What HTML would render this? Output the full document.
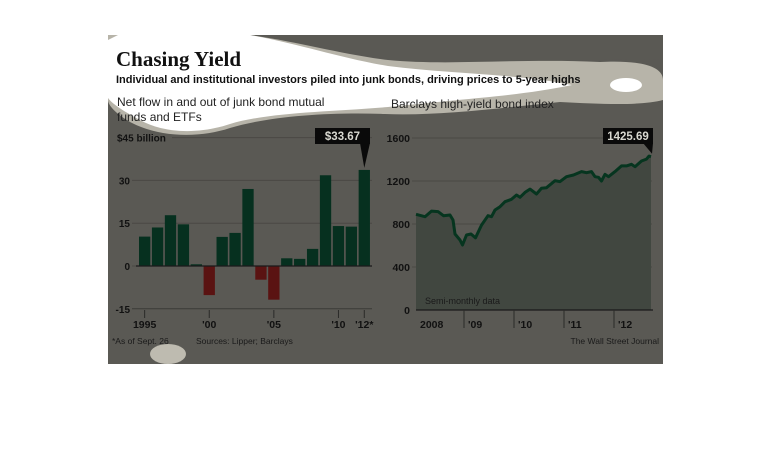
<!DOCTYPE html>
<html><head><meta charset="utf-8">
<style>
html,body{margin:0;padding:0;background:#fff;}
body{width:770px;height:458px;position:relative;overflow:hidden;font-family:"Liberation Sans",sans-serif;}
svg{position:absolute;left:0;top:0;}
</style></head>
<body>
<svg id="chart" width="770" height="458" viewBox="0 0 770 458">
  <rect x="108" y="35" width="555" height="329" fill="#5a5954"/>
  <g>
    <path d="M108,35 L663,35 L663,60 C620,58 560,62 480,62 C420,62 400,64 385,58 C330,52 290,42 250,35 Z" fill="#5a5954"/>
    <path d="M108,35 L250,35 C300,42 340,54 388,60 C450,66 520,58 600,62 C640,60 663,66 663,80 L663,100 C640,106 600,104 560,102 C500,108 440,116 385,114 C330,112 270,116 230,128 C200,138 160,138 130,122 C118,115 108,106 108,100 Z" fill="#b7b4a9"/>
    <path d="M118,35 L250,35 C300,44 340,58 388,66 C450,74 520,74 572,85 C520,96 470,98 388,107 C330,112 270,112 230,124 C200,134 165,134 140,120 C125,112 112,104 108,98 L108,40 Z" fill="#ffffff"/>
    <ellipse cx="626" cy="85" rx="16" ry="7" fill="#ffffff"/>
    <ellipse cx="168" cy="354" rx="18" ry="10" fill="#bebbb0"/>
  </g>
  <text x="116" y="66" font-family="Liberation Serif,serif" font-weight="bold" font-size="21" fill="#111">Chasing Yield</text>
  <text x="116" y="83" font-size="11" font-weight="bold" fill="#111">Individual and institutional investors piled into junk bonds, driving prices to 5-year highs</text>
  <text x="117" y="106" font-size="12" fill="#222">Net flow in and out of junk bond mutual</text>
  <text x="117" y="121" font-size="12" fill="#222">funds and ETFs</text>
  <text x="391" y="108" font-size="12" fill="#222">Barclays high-yield bond index</text>
  <g id="left"></g>
  <g id="right"></g>
  <text x="112" y="344" font-size="8.5" fill="#1a1a1a">*As of Sept. 26</text>
  <text x="196" y="344" font-size="8.5" fill="#1a1a1a">Sources: Lipper; Barclays</text>
  <text x="659" y="344" font-size="8.5" text-anchor="end" fill="#1a1a1a">The Wall Street Journal</text>
</svg>
<script>
const NS="http://www.w3.org/2000/svg";
function mk(parent,tag,attrs,text){const e=document.createElementNS(NS,tag);for(const k in attrs)e.setAttribute(k,attrs[k]);if(text!==undefined)e.textContent=text;parent.appendChild(e);return e;}

// ---- Left chart data ----
const flowYears=[1995,1996,1997,1998,1999,2000,2001,2002,2003,2004,2005,2006,2007,2008,2009,2010,2011,2012];
const flowValues=[10.3,13.5,17.8,14.6,0.6,-10.2,10.2,11.6,27,-4.8,-11.8,2.7,2.5,6,31.8,14,13.8,33.67];
const flowTicks=[-15,0,15,30,45];
const flowTickLabels=["-15","0","15","30","$45 billion"];
const flowXTicks=[1995,2000,2005,2010,2012];
const flowXLabels=["1995","'00","'05","'10","'12*"];

// ---- Right chart data ----
const idxDates=[2008.04,2008.22,2008.35,2008.48,2008.59,2008.72,2008.78,2008.82,2008.92,2008.97,2009.05,2009.14,2009.23,2009.35,2009.48,2009.55,2009.62,2009.72,2009.82,2009.95,2010.05,2010.12,2010.22,2010.32,2010.45,2010.55,2010.65,2010.82,2010.92,2011.05,2011.19,2011.35,2011.45,2011.55,2011.62,2011.69,2011.75,2011.82,2011.89,2012.02,2012.15,2012.25,2012.35,2012.42,2012.55,2012.65,2012.70,2012.74];
const idxValues=[890,868,920,915,877,884,837,707,651,605,698,707,672,790,877,868,930,961,1007,1030,1070,1048,1094,1125,1079,1132,1138,1203,1194,1240,1256,1287,1277,1287,1240,1234,1200,1262,1240,1287,1340,1340,1355,1333,1386,1404,1432,1425.69];
const idxTicks=[0,400,800,1200,1600];
const idxYearLabels=["2008","'09","'10","'11","'12"];
const idxYears=[2008,2009,2010,2011,2012];

// Left axes
const L={x0:132,x1:372,y:v=>266-(v*42.8/15),bx:i=>139+i*12.92,bw:11.3};
const lg=document.getElementById('left');
flowTicks.forEach((t,i)=>{
  const y=L.y(t);
  const g=mk(lg,'line',{x1:t===45?172:132,x2:372,y1:y,y2:y,stroke:t===-15?'#3a3a36':'#4a4945','stroke-width':1});
  
  
  const tx=mk(lg,'text',{x:t===45?117:130,y:y+4,'font-size':10,'font-weight':'bold','text-anchor':t===45?'start':'end',fill:'#111'},flowTickLabels[i]);
  
  
});
flowValues.forEach((v,i)=>{
  const y0=L.y(0),y1=L.y(v);
  const r=mk(lg,'rect',{x:L.bx(i),y:Math.min(y0,y1),width:L.bw,height:Math.abs(y1-y0),fill:v>=0?'#06301f':'#5a1312'});
  
  
});
const zl=mk(lg,'line',{x1:136,x2:372,y1:L.y(0),y2:L.y(0),stroke:'#1a1a1a','stroke-width':1.2});


flowXTicks.forEach((yr,i)=>{
  const x=L.bx(flowYears.indexOf(yr))+L.bw/2;
  const t=mk(lg,'line',{x1:x,x2:x,y1:310,y2:318,stroke:'#2a2a28','stroke-width':1});
  
  
  const lb=mk(lg,'text',{x:x,y:328,'font-size':10.5,'font-weight':'bold','text-anchor':'middle',fill:'#111'},flowXLabels[i]);
  
  
});
// callout last bar
(function(){
  const i=flowValues.length-1,x=L.bx(i)+L.bw/2,y=L.y(flowValues[i]);
  const g=mk(lg,'g',{});
  
  
  mk(g,'rect',{x:315,y:128,width:55,height:16,fill:'#0a0a0a'});
  mk(g,'path',{d:`M360,143 L370,143 L${x},${y-2} Z`,fill:'#0a0a0a'});
  mk(g,'text',{x:342.5,y:140,'font-size':11.5,'font-weight':'bold','text-anchor':'middle',fill:'#d8d8d0'},'$'+flowValues[i].toFixed(2));
})();

// Right axes
const R={x:d=>414+(d-2008)*50,y:v=>310-v*43/400,x0:416,x1:652};
const rg=document.getElementById('right');
idxTicks.forEach(t=>{
  const y=R.y(t);
  if(t>0){const g=mk(rg,'line',{x1:412,x2:652,y1:y,y2:y,stroke:'#4a4945','stroke-width':1});
  
  }
  const tx=mk(rg,'text',{x:410,y:y+4,'font-size':10.5,'font-weight':'bold','text-anchor':'end',fill:'#111'},String(t));
  
  
});
let pts=idxDates.map((d,i)=>[R.x(d),R.y(idxValues[i])]);
pts.unshift([R.x0,R.y(idxValues[0])]);
const lineD='M'+pts.map(p=>p[0].toFixed(1)+','+p[1].toFixed(1)).join(' L');
const area=mk(rg,'path',{d:lineD+` L${pts[pts.length-1][0]},${R.y(0)} L${R.x0},${R.y(0)} Z`,fill:'#414740'});


const ln=mk(rg,'path',{d:lineD,fill:'none',stroke:'#06351f','stroke-width':3,'stroke-linejoin':'round'});


const ax=mk(rg,'line',{x1:R.x0,x2:653,y1:R.y(0),y2:R.y(0),stroke:'#1a1a1a','stroke-width':1.2});


idxYears.forEach((yr,i)=>{
  const x=R.x(yr);
  if(i>0){const t=mk(rg,'line',{x1:x,x2:x,y1:310,y2:328,stroke:'#2a2a28','stroke-width':1});
  
  }
  const lb=mk(rg,'text',{x:x+(i===0?6:4),y:328,'font-size':10.5,'font-weight':'bold',fill:'#111'},idxYearLabels[i]);
  
  
});
const sm=mk(rg,'text',{x:425,y:304,'font-size':9,fill:'#1a1a1a'},'Semi-monthly data');


(function(){
  const n=idxValues.length-1,x=R.x(idxDates[n]),y=R.y(idxValues[n]);
  const g=mk(rg,'g',{});
  
  
  mk(g,'rect',{x:603,y:128,width:50,height:16,fill:'#0a0a0a'});
  mk(g,'path',{d:`M643,143 L653,143 L${x+1},${y-3} Z`,fill:'#0a0a0a'});
  mk(g,'text',{x:628,y:140,'font-size':11.5,'font-weight':'bold','text-anchor':'middle',fill:'#d8d8d0'},idxValues[n].toFixed(2));
})();
</script>
</body></html>
